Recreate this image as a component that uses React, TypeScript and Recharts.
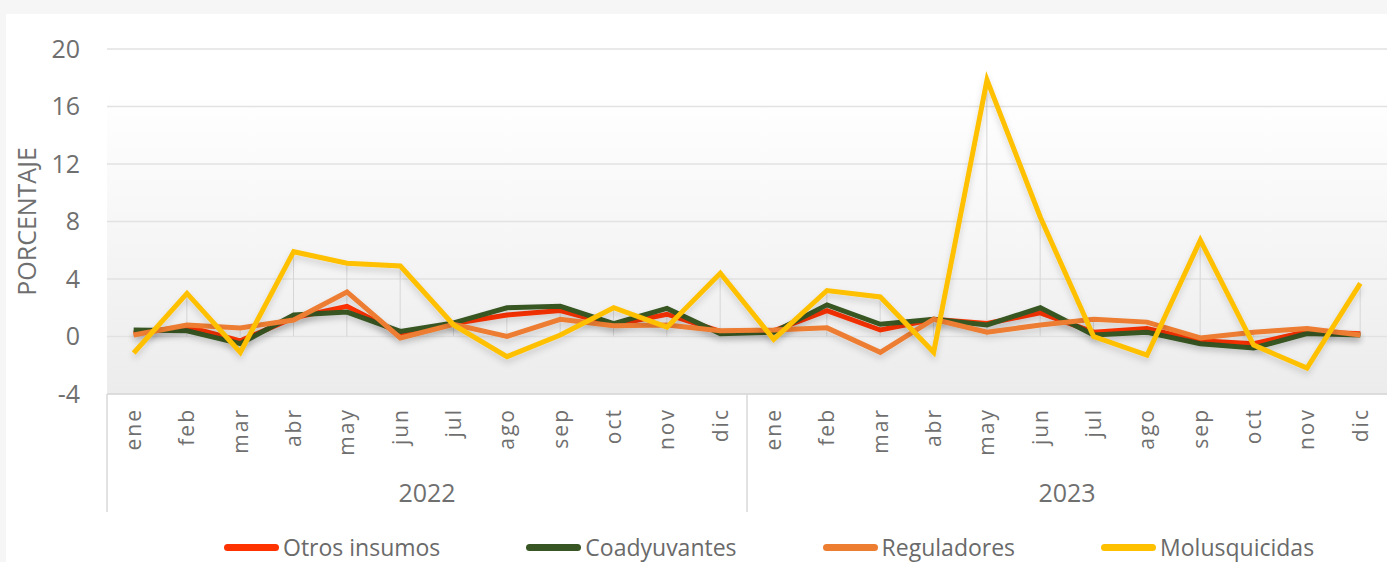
import React from "react";
import { ComposedChart, Line, Bar, XAxis, YAxis, CartesianGrid, Legend } from "recharts";

const months = ["ene", "feb", "mar", "abr", "may", "jun", "jul", "ago", "sep", "oct", "nov", "dic"];
const years = ["2022", "2023"];

const otrosInsumos = [0.2, 0.7, -0.3, 1.3, 2.1, 0.2, 0.9, 1.5, 1.8, 0.8, 1.55, 0.35, 0.4, 1.8, 0.45, 1.2, 0.9, 1.65, 0.3, 0.55, -0.3, -0.5, 0.35, 0.2];
const coadyuvantes = [0.45, 0.4, -0.5, 1.5, 1.7, 0.35, 0.95, 2.0, 2.1, 0.9, 1.95, 0.2, 0.3, 2.2, 0.85, 1.2, 0.8, 2.0, 0.1, 0.3, -0.5, -0.8, 0.2, 0.1];
const reguladores = [0.1, 0.8, 0.6, 1.15, 3.1, -0.1, 0.85, 0.0, 1.2, 0.75, 0.8, 0.4, 0.45, 0.6, -1.1, 1.2, 0.3, 0.8, 1.2, 1.0, -0.1, 0.3, 0.55, 0.1];
const molusquicidas = [-1.15, 3.0, -1.1, 5.9, 5.1, 4.9, 0.8, -1.4, 0.1, 2.0, 0.65, 4.4, -0.2, 3.2, 2.75, -1.1, 17.85, 8.3, 0.0, -1.3, 6.7, -0.6, -2.2, 3.7];

const yTicks = [-4, 0, 4, 8, 12, 16, 20];

const series = [
  { key: "otros", name: "Otros insumos", color: "#ff3300", values: otrosInsumos },
  { key: "coad", name: "Coadyuvantes", color: "#375623", values: coadyuvantes },
  { key: "reg", name: "Reguladores", color: "#ed7d31", values: reguladores },
  { key: "molu", name: "Molusquicidas", color: "#ffc000", values: molusquicidas },
];

const data = years.flatMap((year, yi) =>
  months.map((month, mi) => {
    const i = yi * months.length + mi;
    const row: Record<string, any> = { id: `${month}-${year}`, month, year };
    series.forEach((s) => (row[s.key] = s.values[i]));
    row.top = Math.max(...series.map((s) => s.values[i]));
    return row;
  })
);

const FONT = "'Open Sans', sans-serif";
const TEXT = "#6f6f6f";
const MONTH_H = 70;
const YEAR_H = 48;

const MonthTick = ({ x, y, payload, index }: any) => {
  const half = payload?.offset ?? 26.67;
  const groupStart = index % months.length === 0;
  return (
    <g>
      {groupStart && (
        <line x1={x - half} x2={x - half} y1={y - 14} y2={y - 14 + MONTH_H + YEAR_H} stroke="#d9d9d9" strokeWidth={1.5} />
      )}
      <text
        x={x}
        y={y}
        transform={`rotate(-90 ${x} ${y})`}
        textAnchor="end"
        dy="0.35em"
        fill={TEXT}
        fontSize={21}
        fontFamily={FONT}
        letterSpacing={2}
      >
        {data[index]?.month ?? ""}
      </text>
    </g>
  );
};

const YearTick = ({ x, y, payload, index }: any) => {
  const half = payload?.offset ?? 26.67;
  const n = months.length;
  const pos = index % n;
  const mid = (n - 1) / 2;
  if (pos !== Math.floor(mid)) return null;
  return (
    <text x={x + (mid - Math.floor(mid)) * 2 * half} y={y + 38} textAnchor="middle" fill={TEXT} fontSize={25} fontFamily={FONT}>
      {data[index]?.year}
    </text>
  );
};

const LegendContent = () => (
  <div style={{ display: "flex", alignItems: "center", height: 28, gap: 86, fontFamily: FONT, fontSize: 23, color: "#6a6a6a" }}>
    {series.map((s) => (
      <div key={s.key} style={{ display: "flex", alignItems: "center" }}>
        <span style={{ display: "inline-block", width: 55, height: 7, borderRadius: 3.5, background: s.color, marginRight: 4 }} />
        <span>{s.name}</span>
      </div>
    ))}
  </div>
);

const YLabel = ({ viewBox }: any) => {
  const cx = viewBox.x + 21;
  const cy = viewBox.y + viewBox.height / 2;
  return (
    <text x={cx} y={cy} transform={`rotate(-90 ${cx} ${cy})`} textAnchor="middle" dy="0.35em" fill={TEXT} fontSize={25} fontFamily={FONT}>
      PORCENTAJE
    </text>
  );
};

export default function App() {
  return (
    <div style={{ position: "absolute", left: 0, top: 0, width: 1387, height: 562, background: "#f6f6f6", overflow: "hidden" }}>
      <div style={{ position: "absolute", left: 6, top: 14, width: 1381, height: 548, background: "#ffffff" }}>
        <ComposedChart width={1381} height={548} data={data} margin={{ top: 35, right: 0, bottom: 50, left: 0 }}>
          <defs>
            <linearGradient id="plotBg" x1="0" y1="0" x2="0" y2="1">
              <stop offset="0" stopColor="#ffffff" />
              <stop offset="0.12" stopColor="#ffffff" />
              <stop offset="1" stopColor="#ececec" />
            </linearGradient>
            <filter id="lineShadow" x="-5%" y="-20%" width="110%" height="160%">
              <feDropShadow dx="0" dy="4" stdDeviation="3" floodColor="#000" floodOpacity="0.15" />
            </filter>
          </defs>
          <CartesianGrid vertical={false} stroke="#e2e2e2" strokeWidth={1.5} fill="url(#plotBg)" />
          <XAxis
            xAxisId="m"
            dataKey="id"
            height={MONTH_H}
            interval={0}
            tick={<MonthTick />}
            tickLine={false}
            tickSize={0}
            tickMargin={14}
            axisLine={{ stroke: "#d9d9d9", strokeWidth: 1.5 }}
          />
          <XAxis
            xAxisId="y"
            dataKey="id"
            height={YEAR_H}
            interval={0}
            tick={<YearTick />}
            tickLine={false}
            tickSize={0}
            tickMargin={0}
            axisLine={false}
          />
          <YAxis
            domain={[-4, 20]}
            ticks={yTicks}
            width={101}
            axisLine={false}
            tickLine={false}
            tickSize={0}
            tickMargin={27}
            tick={{ fill: TEXT, fontSize: 25, fontFamily: FONT }}
            label={<YLabel />}
          />
          <Bar xAxisId="m" dataKey="top" barSize={1} fill="#d6d6d6" isAnimationActive={false} legendType="none" />
          {series.map((s) => (
            <Line
              key={s.key}
              xAxisId="m"
              type="linear"
              dataKey={s.key}
              name={s.name}
              stroke={s.color}
              strokeWidth={5}
              dot={false}
              activeDot={false}
              filter="url(#lineShadow)"
              isAnimationActive={false}
            />
          ))}
          <Legend
            layout="horizontal"
            verticalAlign="middle"
            align="center"
            content={<LegendContent />}
            wrapperStyle={{ top: 519, left: 218, width: "auto", height: 28 }}
          />
        </ComposedChart>
      </div>
    </div>
  );
}
